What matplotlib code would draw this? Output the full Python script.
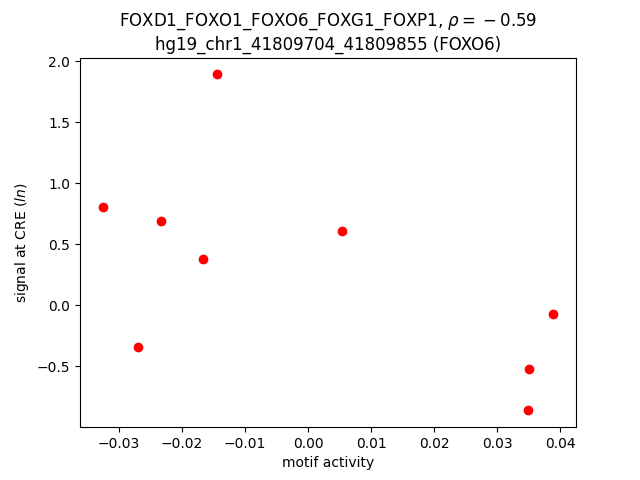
import matplotlib
matplotlib.use("Agg")
import matplotlib.pyplot as plt

motif_activity = [-0.01444, -0.03254, -0.02333, -0.01656, -0.02698, 0.00540, 0.03889, 0.03508, 0.03492]
signal = [1.893, 0.803, 0.689, 0.377, -0.344, 0.607, -0.074, -0.525, -0.861]

fig, ax = plt.subplots(figsize=(6.4, 4.8), dpi=100)
ax.scatter(motif_activity, signal, color="red")
ax.set_xlabel("motif activity")
ax.set_ylabel("signal at CRE ($ln$)")
ax.set_title("FOXD1_FOXO1_FOXO6_FOXG1_FOXP1, $\\rho =\\:-\\:0.59$\nhg19_chr1_41809704_41809855 (FOXO6)")
fig.savefig("out.png")
